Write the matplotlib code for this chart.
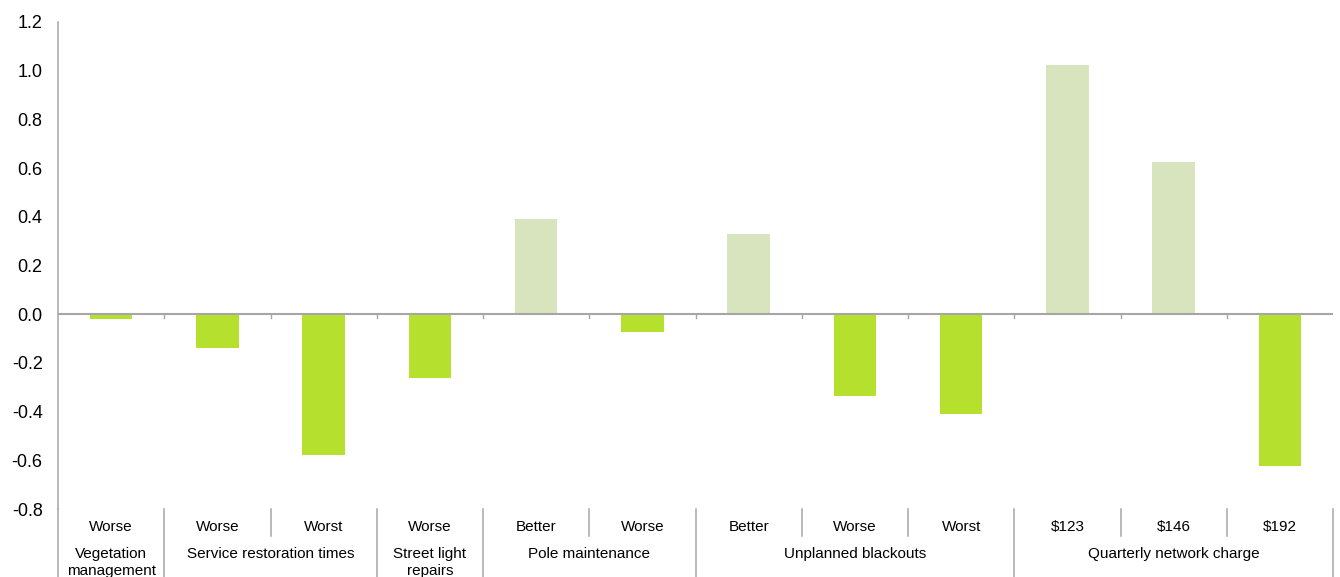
import numpy as np
import matplotlib
matplotlib.use('Agg')
import matplotlib.pyplot as plt
from matplotlib.lines import Line2D

plt.rcParams['font.family'] = ['Liberation Sans', 'DejaVu Sans']

levels = ['Worse', 'Worse', 'Worst', 'Worse', 'Better', 'Worse',
          'Better', 'Worse', 'Worst', '$123', '$146', '$192']
values = [-0.02, -0.14, -0.58, -0.26, 0.39, -0.075,
          0.33, -0.335, -0.41, 1.025, 0.625, -0.625]
groups = ['Vegetation\nmanagement', 'Service restoration times', 'Street light\nrepairs',
          'Pole maintenance', 'Unplanned blackouts', 'Quarterly network charge']
group_sizes = [1, 2, 1, 2, 3, 3]
yticks = [-0.8, -0.6, -0.4, -0.2, 0.0, 0.2, 0.4, 0.6, 0.8, 1.0, 1.2]

pos_color = '#d8e4bd'
neg_color = '#b5e12e'
axis_grey = '#a6a6a6'

fig = plt.figure(figsize=(13.4, 5.77), dpi=100)
ax = fig.add_axes([58/1340, 1-509/577, (1333-58)/1340, (509-22)/577])

x = np.arange(len(values))
colors = [pos_color if v > 0 else neg_color for v in values]
ax.bar(x, values, width=0.4, color=colors, zorder=2)

ax.set_xlim(-0.5, len(values)-0.5)
ax.set_ylim(-0.8, 1.2)
ax.set_yticks(yticks)
ax.set_yticklabels([f'{t:.1f}' for t in yticks])
ax.tick_params(axis='y', length=0, pad=11, labelsize=13)
ax.set_xticks([])

for s in ['top', 'right', 'bottom']:
    ax.spines[s].set_visible(False)
ax.spines['left'].set_color(axis_grey)
ax.spines['left'].set_linewidth(1.1)

# zero line with small ticks at category boundaries
ax.axhline(0, color=axis_grey, lw=1.5, zorder=3)
for b in np.arange(0.5, len(values)-0.5, 1):
    ax.plot([b, b], [0, -0.016], color=axis_grey, lw=1, zorder=3)

trans = ax.get_xaxis_transform()
ax_h = 487.0

# level labels
for i, lab in enumerate(levels):
    ax.text(i, -18/ax_h, lab, transform=trans, ha='center', va='center', fontsize=11)

# separators
group_edges = np.cumsum([0] + group_sizes) - 0.5
for b in np.arange(-0.5, len(values)+0.5, 1):
    if b in group_edges:
        y1 = -70/ax_h
    else:
        y1 = -27/ax_h
    ax.add_line(Line2D([b, b], [0, y1], transform=trans, color=axis_grey,
                       lw=1.1, clip_on=False))

# group labels
for g, lo, hi in zip(groups, group_edges[:-1], group_edges[1:]):
    ax.text((lo+hi)/2, -38/ax_h, g, transform=trans, ha='center', va='top',
            fontsize=11, linespacing=1.25)

fig.savefig('out.png', dpi=100)
